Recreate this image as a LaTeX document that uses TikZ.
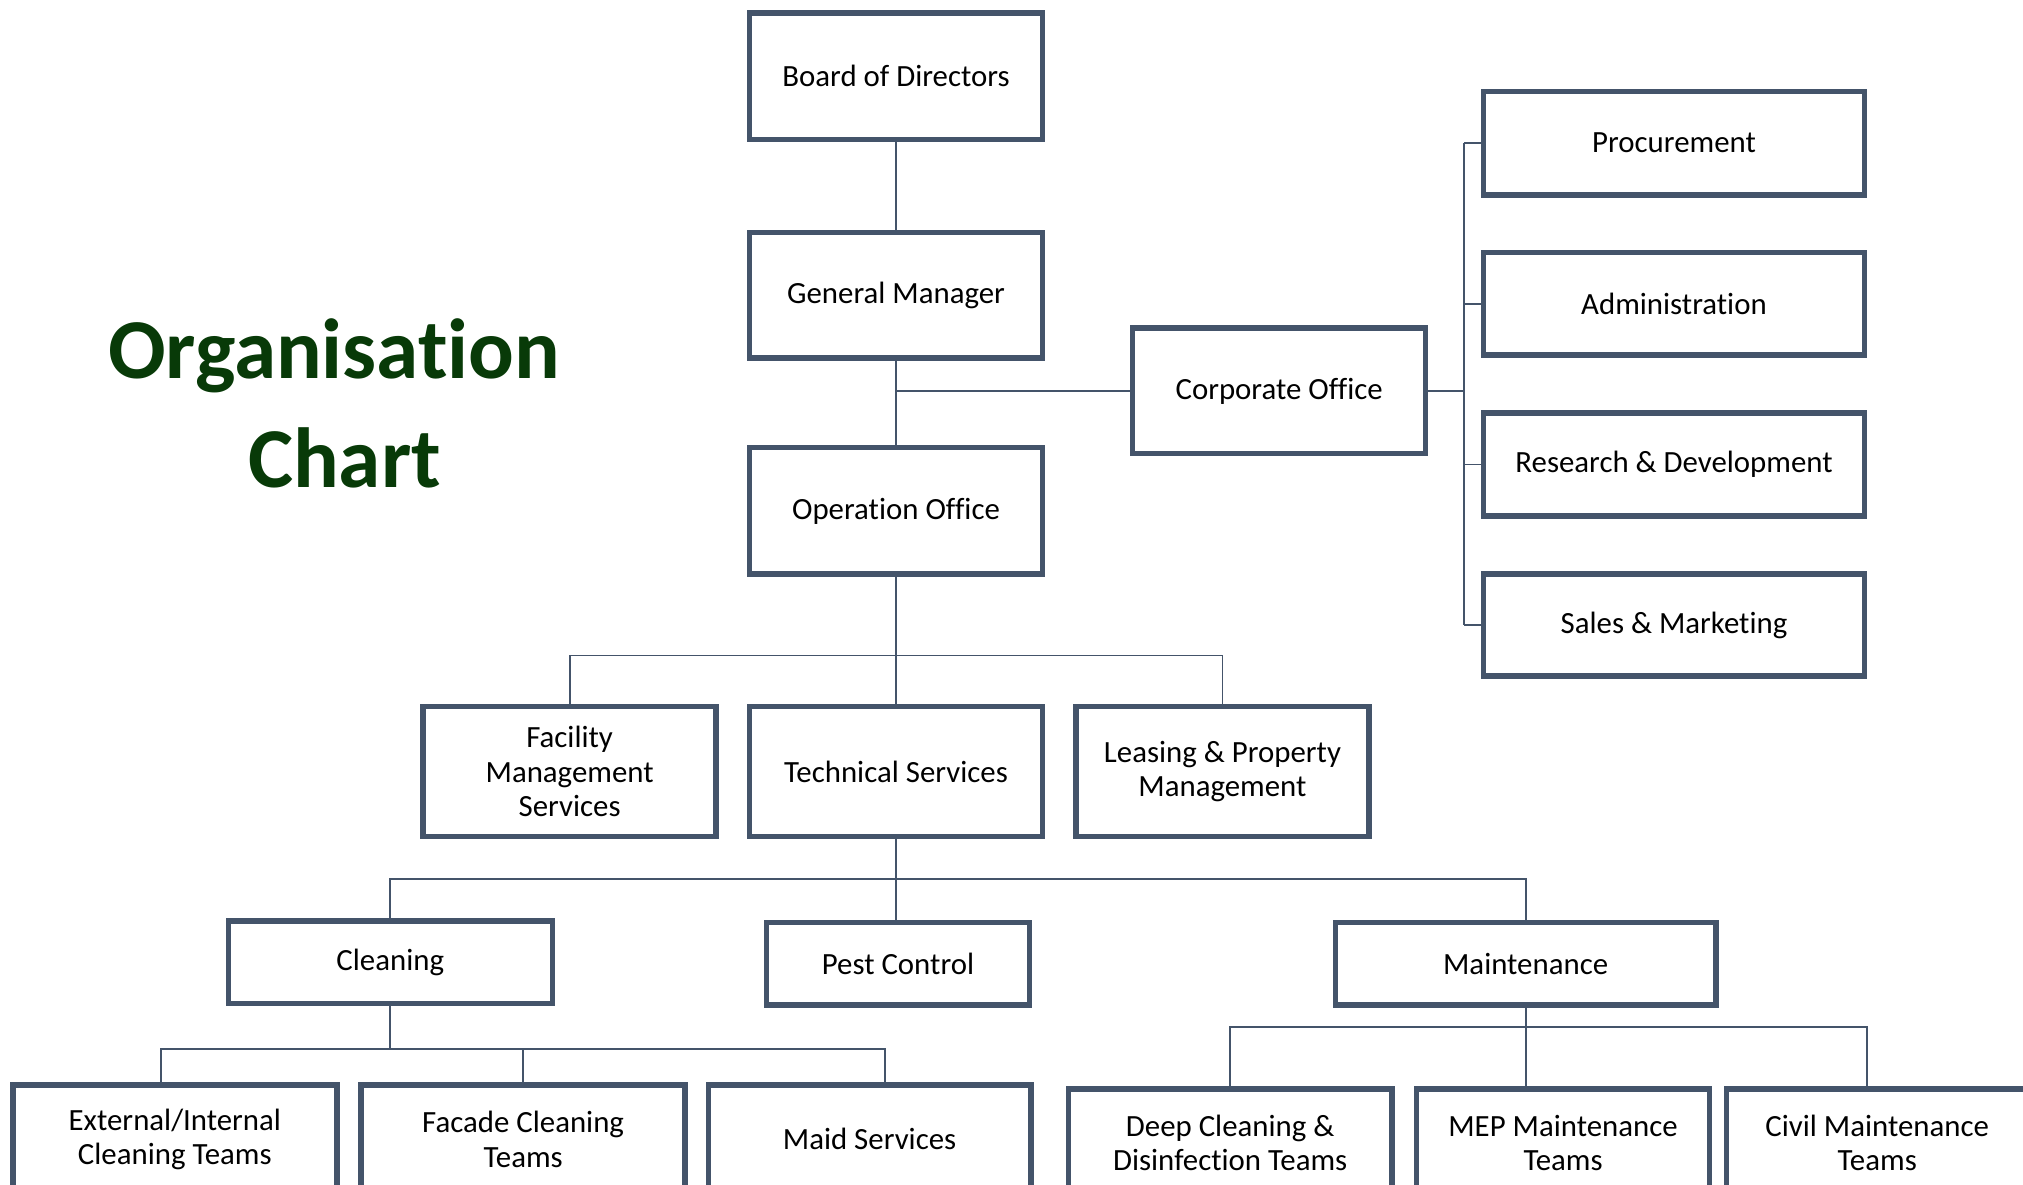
\documentclass[tikz,border=0pt]{standalone}
\usepackage{fontspec}
\setmainfont{Carlito}[Ligatures=NoCommon, Contextuals=NoAlternate]
\usetikzlibrary{calc}

\definecolor{boxline}{HTML}{44546A}
\definecolor{titlegreen}{RGB}{8,58,8}

\tikzset{
  unit/.style 2 args={draw=boxline, line width=3pt, fill=white, align=center,
    inner sep=2pt, minimum width=#1, minimum height=#2,
    font=\fontsize{17}{19}\selectfont},
  link/.style={draw=boxline, line width=1pt},
  heading/.style={text=titlegreen, font=\fontsize{47}{56}\selectfont\bfseries}
}

\begin{document}
\begin{tikzpicture}[x=0.025cm, y=-0.025cm]
\useasboundingbox (0,0) rectangle (1568,918);
\clip (0,0) rectangle (1568,918);

% title
\node[heading] (title1) at (259,276) {Organisat\kern0pt ion};
\node[heading] (title2) at (267,355) {Chart};

% top of the chart
\node[unit={5.675cm}{2.45cm}] (bod) at (694.5,59) {Board of Directors};
\node[unit={5.675cm}{2.43cm}] (gm) at (694.5,229) {General Manager};
\node[unit={5.675cm}{2.45cm}] (ops) at (694.5,396) {Operation Office};
\node[unit={5.675cm}{2.43cm}] (corp) at (991.5,303) {Corporate Office};

% corporate departments
\node[unit={7.375cm}{2.0cm}] (proc) at (1297.5,111) {Procurement};
\node[unit={7.375cm}{1.98cm}] (admin) at (1297.5,235.5) {Administration};
\node[unit={7.375cm}{2.0cm}] (rnd) at (1297.5,360) {Research \& Development};
\node[unit={7.375cm}{1.98cm}] (sales) at (1297.5,484.5) {Sales \& Marketing};

% operation departments
\node[unit={5.675cm}{2.525cm}] (fms) at (441.5,598) {Facility\\ Management\\ Services};
\node[unit={5.675cm}{2.525cm}] (tech) at (694.5,598) {Technical Services};
\node[unit={5.675cm}{2.525cm}] (lease) at (947.5,598) {Leasing \& Property\\ Management};

% technical services
\node[unit={6.275cm}{1.6cm}] (clean) at (302.5,746) {Cleaning};
\node[unit={5.1cm}{1.6cm}] (pest) at (696,747) {Pest Control};
\node[unit={7.375cm}{1.6cm}] (maint) at (1182.5,747) {Maintenance};

% teams
\node[unit={6.275cm}{2.1cm}] (ext) at (135.5,883) {External/Internal\\ Cleaning Teams};
\node[unit={6.275cm}{2.1cm}] (facade) at (405.5,883) {Facade Cleaning\\ Teams};
\node[unit={6.25cm}{2.1cm}] (maid) at (674,883) {Maid Services};
\node[unit={6.275cm}{2.1cm}] (deep) at (953.5,886) {Deep Cleaning \&\\ Disinfection Teams};
\node[unit={5.675cm}{2.1cm}] (mep) at (1211.5,886) {MEP Maintenance\\ Teams};
\node[unit={5.85cm}{2.1cm}] (civil) at (1455,886) {Civil Maintenance\\ Teams};

% junctions
\coordinate (bus) at (1135,303);
\coordinate (opsjoin) at (694.5,508);
\coordinate (techjoin) at (694.5,681);
\coordinate (cleanjoin) at (302.5,813);
\coordinate (maintjoin) at (1182.5,796);

% connectors
\begin{scope}[on background layer/.try]
\draw[link] (bod) -- (gm);
\draw[link] (gm) -- (ops);
\draw[link] (corp.west) -- (corp.west -| gm.south);
\draw[link] (corp.east) -- (bus);
\draw[link] (proc.west -| bus) -- (sales.west -| bus);
\foreach \d in {proc,admin,rnd,sales}
  \draw[link] (\d.west) -- (\d.west -| bus);
\draw[link] (ops.south) -- (opsjoin) -- (tech.north);
\draw[link] (fms.north) |- (opsjoin) -| (lease.north);
\draw[link] (tech.south) -- (techjoin) -- (pest.north -| techjoin);
\draw[link] (clean.north) |- (techjoin) -| (maint.north);
\draw[link] (clean.south) -- (cleanjoin);
\draw[link] (facade.north) -- (facade.north |- cleanjoin);
\draw[link] ([xshift=-0.26cm]ext.north) |- (cleanjoin) -| ([xshift=0.3cm]maid.north);
\draw[link] (maint.south) -- (maint.south |- mep.north);
\draw[link] (deep.north) |- (maintjoin) -| ([xshift=-0.2cm]civil.north);
\end{scope}
\end{tikzpicture}
\end{document}
